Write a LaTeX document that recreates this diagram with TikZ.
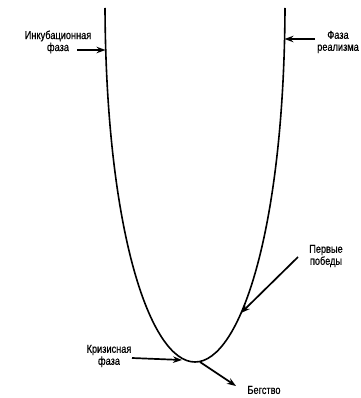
\documentclass[tikz,border=0pt]{standalone}
\usepackage{fontspec}
\setmainfont[FakeStretch=0.8,FakeBold=0.6]{Liberation Sans}
\usetikzlibrary{arrows.meta}
\begin{document}
\begin{tikzpicture}[x=1pt, y=-1pt, >={Stealth[length=9pt,width=6.5pt]}]
\tikzset{lbl/.style={align=center, font=\fontsize{11.5}{12}\selectfont, inner sep=0pt},
  arr/.style={->, line width=1.7pt}}
\useasboundingbox (0,0) rectangle (360,398);

% U-shaped curve
\draw[line width=1.6pt] (105,8) .. controls (106,230) and (150,362) .. (195,362)
  .. controls (240,362) and (284,230) .. (285,8);

% Points on the curve
\coordinate (incEnd) at (105.5,50);
\coordinate (realEnd) at (284.5,39);
\coordinate (winEnd) at (241,313);
\coordinate (crisisEnd) at (182,360);
\coordinate (fleeStart) at (200,362);

% Labels
\node[lbl] (incub) at (58,42) {Инкубационная\\фаза};
\node[lbl] (real) at (338,42) {Фаза\\реализма};
\node[lbl] (win) at (326,256) {Первые\\победы};
\node[lbl] (crisis) at (109,356) {Кризисная\\фаза};
\node[lbl] (flee) at (264,390) {Бегство};

% Arrows
\coordinate (incStart) at (77,50);
\coordinate (realStart) at (315,39);
\coordinate (winStart) at (298,257);
\coordinate (crisisStart) at (132,358);
\coordinate (fleeEnd) at (236,386);
\draw[arr] (incStart) -- (incEnd);
\draw[arr] (realStart) -- (realEnd);
\draw[arr] (winStart) -- (winEnd);
\draw[arr] (crisisStart) -- (crisisEnd);
\draw[arr] (fleeStart) -- (fleeEnd);
\end{tikzpicture}
\end{document}
